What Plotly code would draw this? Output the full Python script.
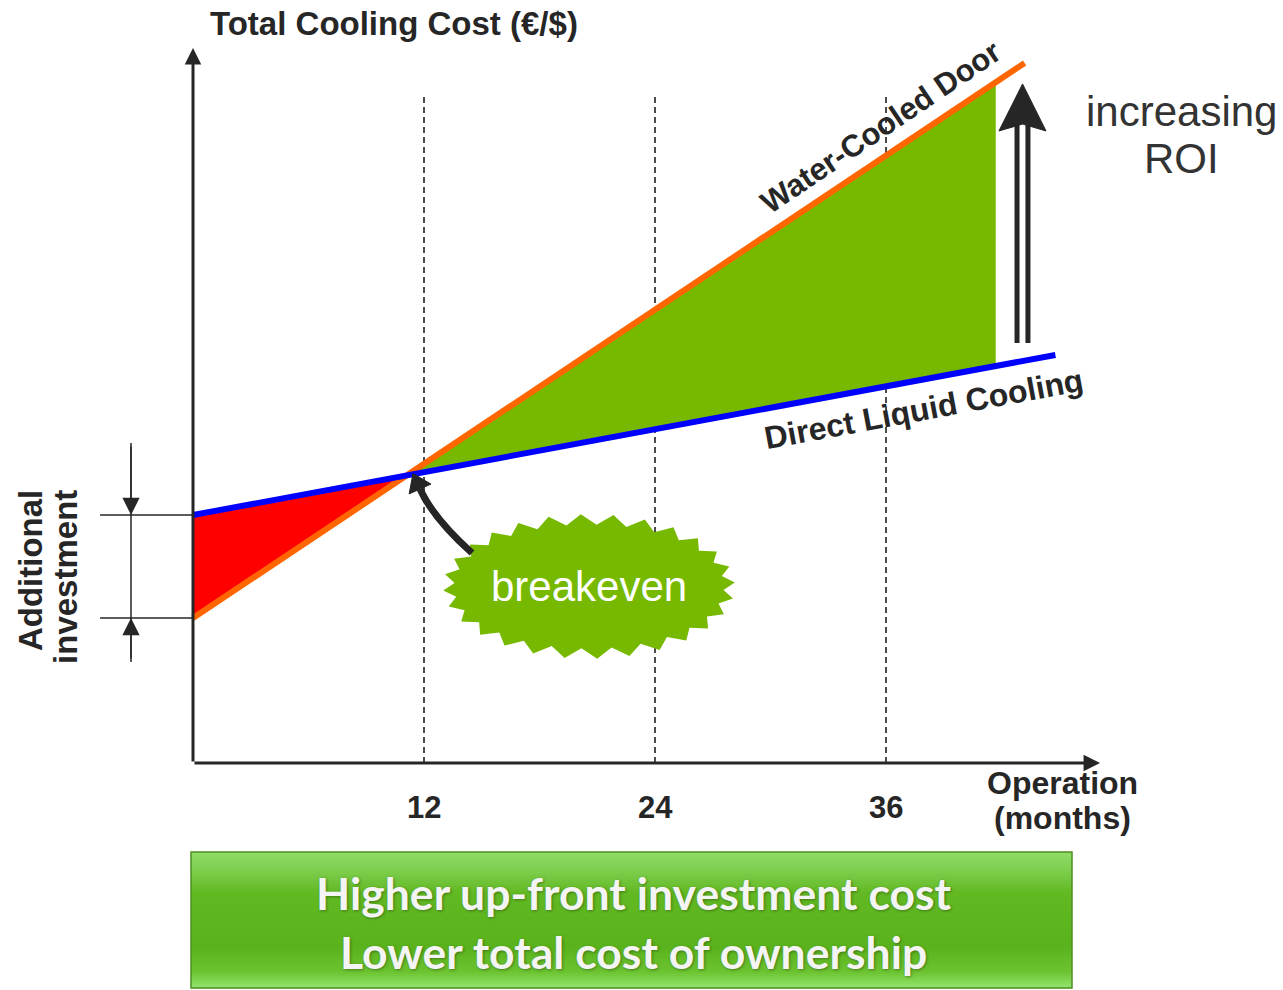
import numpy as np
import plotly.graph_objects as go

# ---- data -------------------------------------------------------------
# Total cooling cost (arbitrary currency units) against months of operation
dlc_months = [0, 44.8]          # Direct Liquid Cooling
dlc_cost = [100.4, 165.2]
wcd_months = [0, 43.2]          # Water-Cooled Door
wcd_cost = [58.7, 283.4]

breakeven_month = 11.1
breakeven_cost = 116.5

# right edge of the shaded ROI region and the two line values there
roi_end_month = 41.7
roi_end_dlc = 160.7
roi_end_wcd = 275.6

tick_months = [12, 24, 36]
tick_labels = ["12", "24", "36"]

# ---- figure geometry --------------------------------------------------
W, H = 1283, 990
X_RANGE = [-10.026, 56.623]
Y_RANGE = [-91.90, 308.91]
X_AXIS_END = 47.12
Y_AXIS_END = 289.5
DASH_TOP = 269.6

DARK = "#262626"
FONT = "Liberation Sans, Arial, sans-serif"


def label(x, y, text, size, color=DARK, bold=True, angle=0, xref="paper", yref="paper", family=FONT, **font_extra):
    return dict(x=x, y=y, xref=xref, yref=yref, text=text, showarrow=False,
                xanchor="center", yanchor="middle", textangle=angle,
                font=dict(family=family, size=size, color=color,
                          weight="bold" if bold else "normal", **font_extra))


fig = go.Figure()

# additional investment (red) and return on investment (green) regions
fig.add_trace(go.Scatter(
    x=[dlc_months[0], breakeven_month, wcd_months[0]],
    y=[dlc_cost[0], breakeven_cost, wcd_cost[0]],
    fill="toself", fillcolor="#FF0000", mode="lines",
    line=dict(width=0), hoverinfo="skip", showlegend=False))
fig.add_trace(go.Scatter(
    x=[breakeven_month, roi_end_month, roi_end_month],
    y=[breakeven_cost, roi_end_wcd, roi_end_dlc],
    fill="toself", fillcolor="#76B900", mode="lines",
    line=dict(width=0), hoverinfo="skip", showlegend=False))

# cost lines
fig.add_trace(go.Scatter(
    x=wcd_months, y=wcd_cost, mode="lines",
    line=dict(color="#FF6600", width=6), hoverinfo="skip", showlegend=False))
fig.add_trace(go.Scatter(
    x=dlc_months, y=dlc_cost, mode="lines",
    line=dict(color="#0000FF", width=6), hoverinfo="skip", showlegend=False))

shapes = []
annotations = []

# dashed month guides
for m in tick_months:
    shapes.append(dict(type="line", xref="x", yref="y", x0=m, x1=m, y0=0, y1=DASH_TOP,
                       line=dict(color="#111111", width=1.5, dash="6px,4px"), layer="below"))

# tick labels
for m, lab in zip(tick_months, tick_labels):
    annotations.append(label(m, 0.1848, lab, 31, xref="x"))

# axes with arrow heads
annotations.append(dict(x=X_AXIS_END, y=0, ax=0, ay=0, xref="x", yref="y", axref="x", ayref="y",
                        text="", showarrow=True, arrowhead=2, arrowsize=1.1, arrowwidth=3,
                        arrowcolor=DARK, standoff=0))
annotations.append(dict(x=0, y=Y_AXIS_END, ax=0, ay=0, xref="x", yref="y", axref="x", ayref="y",
                        text="", showarrow=True, arrowhead=2, arrowsize=1.1, arrowwidth=3,
                        arrowcolor=DARK, standoff=0))

# axis titles
annotations.append(label(0.3071, 0.9758, "Total Cooling Cost (€/$)", 33))
annotations.append(label(0.8285, 0.2091, "Operation", 32))
annotations.append(label(0.8285, 0.1737, "(months)", 32))

# line labels
annotations.append(label(0.6859, 0.8717, "Water-Cooled Door", 31, angle=-34))
annotations.append(label(0.7202, 0.5869, "Direct Liquid Cooling", 32, angle=-10.5))

# additional investment dimension marks
for c in (dlc_cost[0], wcd_cost[0]):
    shapes.append(dict(type="line", xref="paper", yref="y", x0=0.078, x1=0.1504, y0=c, y1=c,
                       line=dict(color=DARK, width=1.5)))
shapes.append(dict(type="line", xref="paper", yref="paper", x0=0.1021, x1=0.1021,
                   y0=0.3313, y1=0.5525, line=dict(color=DARK, width=1.5)))
annotations.append(dict(x=0.1021, y=dlc_cost[0], xref="paper", yref="y", ax=0, ay=-70,
                        text="", showarrow=True, arrowhead=2, arrowsize=2.3, arrowwidth=1.5,
                        arrowcolor=DARK, standoff=0))
annotations.append(dict(x=0.1021, y=wcd_cost[0], xref="paper", yref="y", ax=0, ay=42,
                        text="", showarrow=True, arrowhead=2, arrowsize=2.3, arrowwidth=1.5,
                        arrowcolor=DARK, standoff=0))
annotations.append(label(0.0234, 0.4232, "Additional", 33, angle=-90))
annotations.append(label(0.0514, 0.4172, "investment", 33, angle=-90))

# breakeven starburst
n_spikes = 28
cx, cy = 0.4591, 0.4076
ang = np.linspace(0, 2 * np.pi, 2 * n_spikes, endpoint=False) + np.pi / (2 * n_spikes)
rx = np.where(np.arange(2 * n_spikes) % 2 == 0, 0.1138, 0.1050)
ry = np.where(np.arange(2 * n_spikes) % 2 == 0, 0.0732, 0.0625)
sx = cx + rx * np.cos(ang)
sy = cy + ry * np.sin(ang)
star = "M " + " L ".join(f"{a:.5f},{b:.5f}" for a, b in zip(sx, sy)) + " Z"
shapes.append(dict(type="path", xref="paper", yref="paper", path=star,
                   fillcolor="#76B900", line=dict(width=0)))
annotations.append(label(cx, 0.4076, "breakeven", 42, color="white", bold=False))

# curved pointer to the breakeven point
shapes.append(dict(type="path", xref="paper", yref="paper",
                   path="M 0.3679,0.4414 Q 0.3375,0.4768 0.3274,0.5061",
                   line=dict(color=DARK, width=7)))
shapes.append(dict(type="path", xref="paper", yref="paper",
                   path="M 0.3219,0.5217 L 0.3359,0.5110 L 0.3189,0.5011 Z",
                   fillcolor=DARK, line=dict(color=DARK, width=1)))

# increasing ROI double arrow
for x in (0.7927, 0.8012):
    shapes.append(dict(type="line", xref="paper", yref="paper", x0=x, x1=x, y0=0.6535, y1=0.8737,
                       line=dict(color=DARK, width=5)))
shapes.append(dict(type="path", xref="paper", yref="paper",
                   path="M 0.7970,0.9152 L 0.7786,0.8677 L 0.7970,0.8747 L 0.8153,0.8677 Z",
                   fillcolor=DARK, line=dict(color=DARK, width=1)))
annotations.append(label(0.9205, 0.8869, "increasing", 42, color="#333333", bold=False))
annotations.append(label(0.9205, 0.8404, "ROI", 42, color="#333333", bold=False))

# summary banner with vertical gradient
bx0, bx1 = 191 / W, 1072 / W
top, bottom = 852, 988
stops = [(0.0, (0x90, 0xDC, 0x66)), (0.12, (0x80, 0xD0, 0x52)), (0.30, (0x62, 0xB9, 0x22)),
         (0.70, (0x5A, 0xB3, 0x1C)), (0.88, (0x6C, 0xC3, 0x30)), (1.0, (0x94, 0xE4, 0x6E))]
n_bands = 68
for i in range(n_bands):
    t = (i + 0.5) / n_bands
    for (t0, c0), (t1, c1) in zip(stops[:-1], stops[1:]):
        if t0 <= t <= t1:
            f = (t - t0) / (t1 - t0)
            col = tuple(int(round(a + (b - a) * f)) for a, b in zip(c0, c1))
            break
    y_top = top + (bottom - top) * i / n_bands
    y_bot = top + (bottom - top) * (i + 1) / n_bands + 0.6
    shapes.append(dict(type="rect", xref="paper", yref="paper", x0=bx0, x1=bx1,
                       y0=1 - y_bot / H, y1=1 - y_top / H,
                       fillcolor="rgb(%d,%d,%d)" % col, line=dict(width=0)))
shapes.append(dict(type="rect", xref="paper", yref="paper", x0=bx0, x1=bx1,
                   y0=1 - bottom / H, y1=1 - top / H, line=dict(color="#4F8F23", width=1.5)))
banner_kw = dict(color="#F4F4F4", family="Lato, sans-serif", shadow="1px 1px 3px rgba(0,0,0,0.35)")
annotations.append(label(0.494, 1 - 892 / H, "Higher up-front investment cost", 44.5, **banner_kw))
annotations.append(label(0.494, 1 - 951 / H, "Lower total cost of ownership", 44.5, **banner_kw))

fig.update_layout(
    width=W, height=H,
    margin=dict(l=0, r=0, t=0, b=0),
    paper_bgcolor="white", plot_bgcolor="white",
    xaxis=dict(range=X_RANGE, visible=False, fixedrange=True),
    yaxis=dict(range=Y_RANGE, visible=False, fixedrange=True),
    shapes=shapes, annotations=annotations,
    showlegend=False, hovermode=False,
)

fig.write_html("out.html", config={"displayModeBar": False})
